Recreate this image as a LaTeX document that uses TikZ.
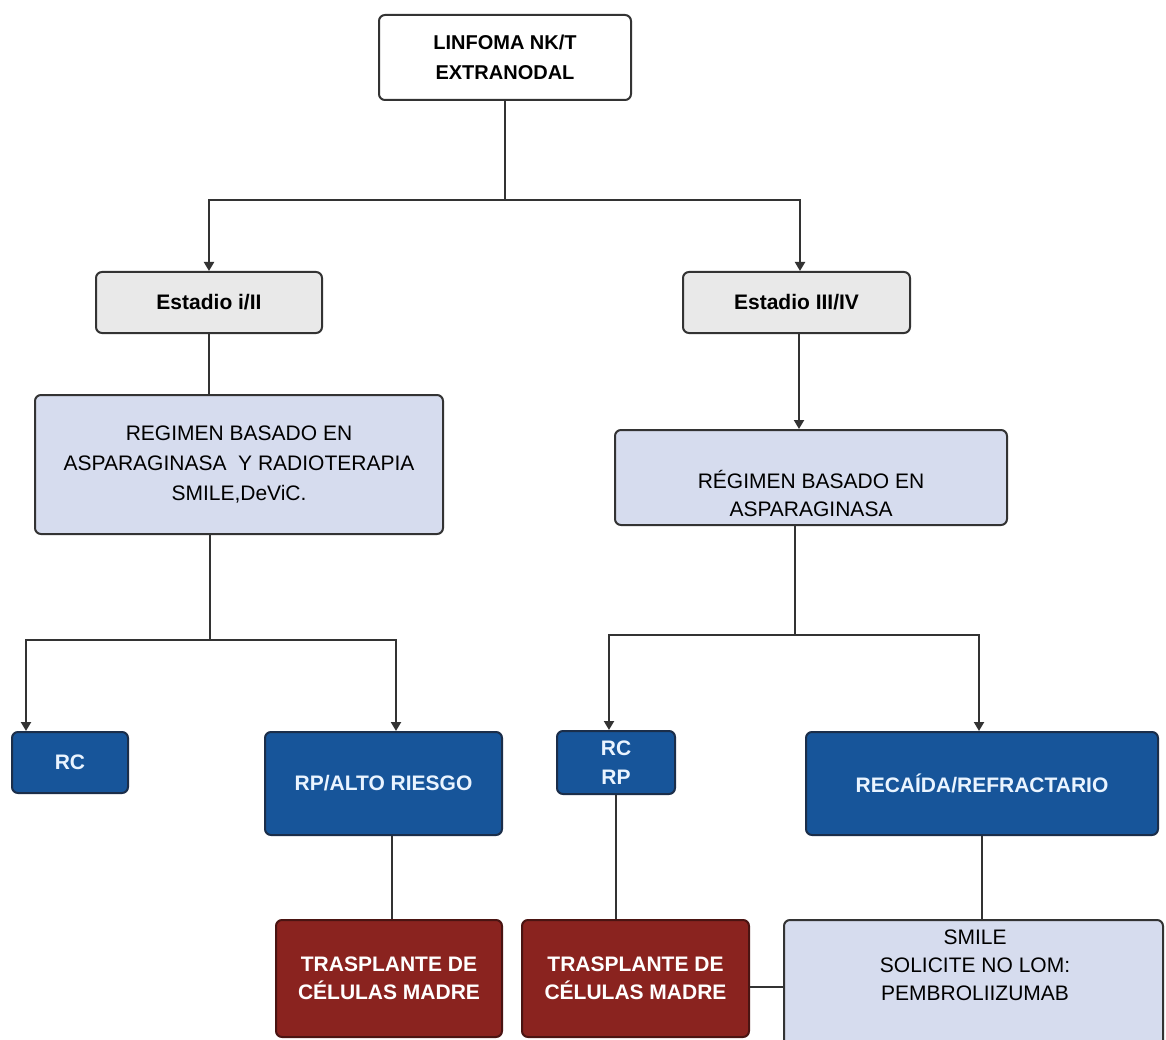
\documentclass[tikz,border=0pt]{standalone}
\usepackage{fontspec}
\setmainfont{Liberation Sans}
\usetikzlibrary{arrows.meta}

\definecolor{edge}{HTML}{333333}
\definecolor{grayfill}{HTML}{E9E9E9}
\definecolor{lavender}{HTML}{D6DCEE}
\definecolor{navy}{HTML}{17559A}
\definecolor{navyedge}{HTML}{1B2E4A}
\definecolor{wine}{HTML}{8A231F}
\definecolor{wineedge}{HTML}{4A1412}
\definecolor{pale}{HTML}{EAF4FF}

\tikzset{
  base/.style={rectangle, rounded corners=6pt, line width=2pt, inner sep=0pt, align=center},
  topbox/.style={base, draw=edge, fill=white, font=\bfseries\fontsize{20}{30}\selectfont},
  stagebox/.style={base, draw=edge, fill=grayfill, font=\bfseries\fontsize{21}{28}\selectfont},
  regbox/.style={base, draw=edge, fill=lavender, font=\fontsize{21}{30}\selectfont},
  regtext/.style={align=center, inner sep=0pt, font=\fontsize{21}{28}\selectfont},
  respbox/.style={base, draw=navyedge, fill=navy, text=pale, font=\bfseries\fontsize{21}{29}\selectfont},
  sctbox/.style={base, draw=wineedge, fill=wine, text=white, font=\bfseries\fontsize{21}{28}\selectfont},
  link/.style={draw=edge, line width=2pt},
  arrow/.style={link, -{Triangle[length=9pt,width=10pt]}},
}

\begin{document}
\begin{tikzpicture}[x=1pt, y=-1pt]
  \useasboundingbox[fill=white] (0,0) rectangle (1166,1040);
  \clip (0,0) rectangle (1166,1040);

  % root and stages
  \node[topbox, minimum width=252, minimum height=85] (top) at (505,57.5)
    {LINFOMA NK/T\\EXTRANODAL};
  \node[stagebox, minimum width=226, minimum height=61] (st1) at (209,302.5) {Estadio i/II};
  \node[stagebox, minimum width=227, minimum height=61] (st2) at (796.5,302.5) {Estadio III/IV};

  % first-line regimens
  \node[regbox, minimum width=408, minimum height=139] (reg1) at (239,464.5)
    {REGIMEN BASADO EN\\ASPARAGINASA \ Y RADIOTERAPIA\\SMILE,DeViC.};
  \node[regbox, minimum width=392, minimum height=95] (reg2) at (811,477.5) {};
  \node[regtext] (reg2txt) at ([yshift=-16pt]reg2.center) {RÉGIMEN BASADO EN\\ASPARAGINASA};

  % responses
  \node[respbox, minimum width=116, minimum height=61] (rc1) at (70,762.5) {RC};
  \node[respbox, minimum width=237, minimum height=103] (rpalto) at (383.5,783.5) {RP/ALTO RIESGO};
  \node[respbox, minimum width=118, minimum height=63] (rcrp) at (616,762.5) {RC\\RP};
  \node[respbox, minimum width=352, minimum height=103] (recaida) at (982,783.5) {RECAÍDA/REFRACTARIO};

  % consolidation and salvage
  \node[sctbox, minimum width=226, minimum height=117] (sct1) at (389,978.5)
    {TRASPLANTE DE\\CÉLULAS MADRE};
  \node[sctbox, minimum width=227, minimum height=117] (sct2) at (635.5,978.5)
    {TRASPLANTE DE\\CÉLULAS MADRE};
  \node[regbox, minimum width=379, minimum height=150] (smile) at (973.5,995) {};
  \node[regtext] (smiletxt) at (975,965) {SMILE\\SOLICITE NO LOM:\\PEMBROLIIZUMAB};

  % root split
  \coordinate (j0) at (505,200);
  \draw[link] (top.south) -- (j0);
  \draw[arrow] (j0) -| (st1.north);
  \draw[arrow] (j0) -| ([xshift=3.5pt]st2.north);

  % early stage branch
  \draw[link] (st1.south) -- (st1.south |- reg1.north);
  \coordinate (j1) at (210,640);
  \draw[link] (reg1.south -| j1) -- (j1);
  \draw[arrow] (j1) -| ([xshift=15pt]rc1.north west);
  \draw[arrow] (j1) -| ([xshift=12.5pt]rpalto.north);
  \draw[link] ([xshift=8.5pt]rpalto.south) -- ([xshift=8.5pt]rpalto.south |- sct1.north);

  % advanced stage branch
  \draw[arrow] ([xshift=2.5pt]st2.south) -- ([xshift=2.5pt]st2.south |- reg2.north);
  \coordinate (j2) at (795,635);
  \draw[link] (reg2.south -| j2) -- (j2);
  \draw[arrow] (j2) -| ([xshift=-7pt]rcrp.north);
  \draw[arrow] (j2) -| ([xshift=-3pt]recaida.north);
  \draw[link] (rcrp.south) -- (rcrp.south |- sct2.north);
  \draw[link] (recaida.south) -- (recaida.south |- smile.north);
  \draw[link] ([yshift=-8.5pt]sct2.east) -- ([yshift=-8.5pt]sct2.east -| smile.west);
\end{tikzpicture}
\end{document}
